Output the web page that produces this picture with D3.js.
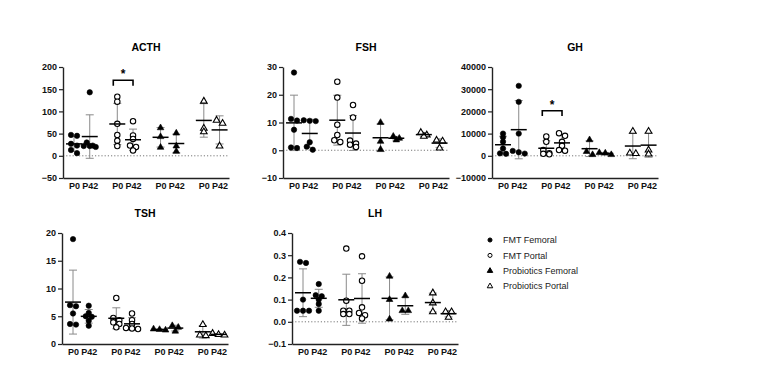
<!DOCTYPE html>
<html>
<head>
<meta charset="utf-8">
<script src="https://cdn.jsdelivr.net/npm/d3@7"></script>
<style>
  body { margin: 0; background: #fff; }
  svg { display: block; font-family: "Liberation Sans", Arial, sans-serif; }
</style>
</head>
<body>
<svg id="chart" width="760" height="373"></svg>
<script>
"use strict";

var groups = ["FMT Femoral", "FMT Portal", "Probiotics Femoral", "Probiotics Portal"];
var times = ["P0", "P42"];

// columns: FMT Fem P0, P42 | FMT Portal P0, P42 | Prob Fem P0, P42 | Prob Portal P0, P42
var acth = [
  [45, 47, 27, 23, 6, 13], [143, 30, 22, 20, 22, 23],
  [133, 122, 72, 47, 34, 22], [78, 46, 38, 23, 20, 12],
  [63, 43, 19], [51, 22, 10],
  [123, 62, 54], [80, 73, 22]
];
var fsh = [
  [28, 11.3, 10.7, 7.4, 0.8, 1.0], [10.8, 10.5, 10.6, 2.9, 1.3, 0.2],
  [24.7, 19, 9.2, 5.5, 3.0, 3.6], [16.3, 11.8, 3.5, 2.4, 1.2, 2.0],
  [10.0, 3.2, 0.3], [5.0, 4.3, 3.7],
  [6.4, 5.5, 5.0], [3.6, 3.3, 0.8]
];
var gh = [
  [10000, 8300, 6300, 3300, 1100, 900], [31500, 24300, 10000, 2200, 1600, 1000],
  [8700, 6300, 2600, 1200, 900, 700], [10200, 9000, 6300, 4500, 2600, 2300],
  [7200, 1900, 500], [1400, 1200, 500],
  [11000, 1200, 1000], [11000, 2600, 800]
];
var tsh = [
  [18.9, 7.0, 6.8, 5.5, 3.6, 3.5], [6.9, 5.6, 5.0, 4.9, 4.2, 3.3],
  [8.3, 4.7, 4.3, 3.9, 3.6, 3.0], [5.5, 4.3, 3.6, 2.9, 2.7, 2.8],
  [2.7, 2.6, 2.5], [3.3, 3.0, 2.3],
  [3.5, 1.6, 1.5], [1.9, 1.7, 1.6]
];
var lh = [
  [0.27, 0.265, 0.1, 0.05, 0.05, 0.05], [0.17, 0.12, 0.115, 0.1, 0.08, 0.05],
  [0.33, 0.095, 0.05, 0.05, 0.035, 0.035], [0.295, 0.185, 0.065, 0.04, 0.03, 0.015],
  [0.205, 0.1, 0.012], [0.117, 0.05, 0.05],
  [0.13, 0.085, 0.045], [0.045, 0.045, 0.02]
];

var acthTicks = [-50, 0, 50, 100, 150, 200];
var fshTicks = [-10, 0, 10, 20, 30];
var ghTicks = [-10000, 0, 10000, 20000, 30000, 40000];
var tshTicks = [0, 5, 10, 15, 20];
var lhTicks = [-0.1, 0, 0.1, 0.2, 0.3, 0.4];

// significance: column pair, bracket top and leg end in data units
var acthSig = [{ from: 2, to: 3, top: 170, leg: 158 }];
var ghSig = [{ from: 2, to: 3, top: 20300, leg: 17900 }];

var panels = [
  { name: "ACTH", values: acth, ticks: acthTicks, sig: acthSig, x0: 63, y0: 67, fmt: "d" },
  { name: "FSH", values: fsh, ticks: fshTicks, sig: [], x0: 283, y0: 67, fmt: "d" },
  { name: "GH", values: gh, ticks: ghTicks, sig: ghSig, x0: 492, y0: 67, fmt: "d" },
  { name: "TSH", values: tsh, ticks: tshTicks, sig: [], x0: 62, y0: 233, fmt: "d" },
  { name: "LH", values: lh, ticks: lhTicks, sig: [], x0: 292, y0: 233, fmt: ".1f" }
];

var svg = d3.select("#chart");
var W = 166, H = 111;
var slots = [0, 1, 2.75, 3.75, 5.5, 6.5, 8.25, 9.25];
var R = 2.7;

var symCircle = d3.symbol().type(d3.symbolCircle).size(Math.PI * R * R);
var symTri = d3.symbol().type(d3.symbolTriangle).size(19);
function shapeFor(gi) { return gi < 2 ? symCircle() : symTri(); }
function fillFor(gi) { return gi % 2 === 0 ? "#000" : "#fff"; }

// rows of near-equal values, each row centred on the column
function swarm(vals, y) {
  var step = 6;
  var pts = vals.map(function(v) { return { v: v, y: y(v), dx: 0 }; });
  var order = pts.slice().sort(function(a, b) { return b.v - a.v; });
  var rows = [];
  order.forEach(function(p) {
    var last = rows[rows.length - 1];
    if (last && Math.abs(p.y - last[0].y) < 3.2) last.push(p);
    else rows.push([p]);
  });
  rows.forEach(function(row) {
    row.forEach(function(p, k) { p.dx = (k - (row.length - 1) / 2) * step; });
  });
  return pts;
}

panels.forEach(function(p) {
  var g = svg.append("g").attr("transform", "translate(" + p.x0 + "," + p.y0 + ")");

  var x = d3.scaleLinear().domain([-0.7, 9.85]).range([0, W]);
  var y = d3.scaleLinear().domain(d3.extent(p.ticks)).range([H, 0]);

  g.append("text")
    .attr("x", W / 2).attr("y", -16)
    .attr("text-anchor", "middle")
    .style("font-size", "10.5px").style("font-weight", "bold")
    .text(p.name);

  // dotted zero line
  if (y.domain()[0] < 0) {
    g.append("line")
      .attr("x1", 0).attr("x2", W)
      .attr("y1", y(0)).attr("y2", y(0))
      .attr("stroke", "#777").attr("stroke-width", 1)
      .attr("stroke-dasharray", "1.2,2");
  }

  var yAxis = g.append("g")
    .call(d3.axisLeft(y).tickValues(p.ticks).tickSize(4).tickSizeOuter(0).tickFormat(d3.format(p.fmt)));
  var xAxis = g.append("g")
    .attr("transform", "translate(0," + H + ")")
    .call(d3.axisBottom(x).tickValues(slots).tickSize(0).tickSizeOuter(0)
      .tickFormat(function(d, i) { return times[i % 2]; }));

  [yAxis, xAxis].forEach(function(a) {
    a.select(".domain").attr("stroke", "#222").attr("stroke-width", 1.4);
    a.selectAll(".tick line").attr("stroke", "#222").attr("stroke-width", 1.2);
    a.selectAll("text")
      .style("font-family", "Liberation Sans, Arial, sans-serif")
      .style("font-size", "9px").style("font-weight", "bold").attr("fill", "#111");
  });
  xAxis.selectAll("text").attr("dy", "0.71em").attr("y", 5);
  yAxis.selectAll("text").attr("x", -6);

  var cols = g.selectAll(".col")
    .data(p.values)
    .enter().append("g")
      .attr("class", "col")
      .attr("transform", function(d, i) { return "translate(" + x(slots[i]) + ",0)"; });

  cols.each(function(vals, i) {
    var c = d3.select(this);
    var m = d3.mean(vals), sd = d3.deviation(vals);
    var lo = y(m - sd), hi = y(m + sd);
    // SD error bar
    c.append("line").attr("x1", 0).attr("x2", 0).attr("y1", lo).attr("y2", hi)
      .attr("stroke", "#8a8a8a").attr("stroke-width", 1);
    [lo, hi].forEach(function(v) {
      c.append("line").attr("x1", -4).attr("x2", 4).attr("y1", v).attr("y2", v)
        .attr("stroke", "#8a8a8a").attr("stroke-width", 1);
    });

    var gi = Math.floor(i / 2);
    c.selectAll("path.pt")
      .data(swarm(vals, y))
      .enter().append("path")
        .attr("class", "pt")
        .attr("d", shapeFor(gi))
        .attr("transform", function(d) { return "translate(" + d.dx + "," + d.y + ")"; })
        .attr("fill", fillFor(gi))
        .attr("stroke", "#000").attr("stroke-width", gi % 2 === 0 ? 0.6 : 1.1);

    // mean
    c.append("line").attr("x1", -8).attr("x2", 8).attr("y1", y(m)).attr("y2", y(m))
      .attr("stroke", "#000").attr("stroke-width", 1.5);
  });

  // significance brackets
  p.sig.forEach(function(s) {
    var xa = x(slots[s.from]) - 4, xb = x(slots[s.to]);
    g.append("path")
      .attr("d", "M" + xa + "," + y(s.leg) + "V" + y(s.top) + "H" + xb + "V" + y(s.leg))
      .attr("fill", "none").attr("stroke", "#000").attr("stroke-width", 1.6);
    g.append("text")
      .attr("x", (xa + xb) / 2).attr("y", y(s.top) - 2)
      .attr("text-anchor", "middle")
      .style("font-size", "12px").style("font-weight", "bold")
      .text("*");
  });
});

// legend
var legend = svg.append("g").attr("transform", "translate(490,240)");
var items = legend.selectAll(".item")
  .data(groups)
  .enter().append("g")
    .attr("class", "item")
    .attr("transform", function(d, i) { return "translate(0," + (i * 15.4) + ")"; });
items.append("path")
  .attr("d", function(d, i) {
    return i < 2 ? d3.symbol().type(d3.symbolCircle).size(13)() : d3.symbol().type(d3.symbolTriangle).size(13)();
  })
  .attr("fill", function(d, i) { return fillFor(i); })
  .attr("stroke", "#000").attr("stroke-width", 1);
items.append("text")
  .attr("x", 13).attr("dy", "0.35em")
  .style("font-size", "9px").attr("fill", "#222")
  .text(function(d) { return d; });
</script>
</body>
</html>
